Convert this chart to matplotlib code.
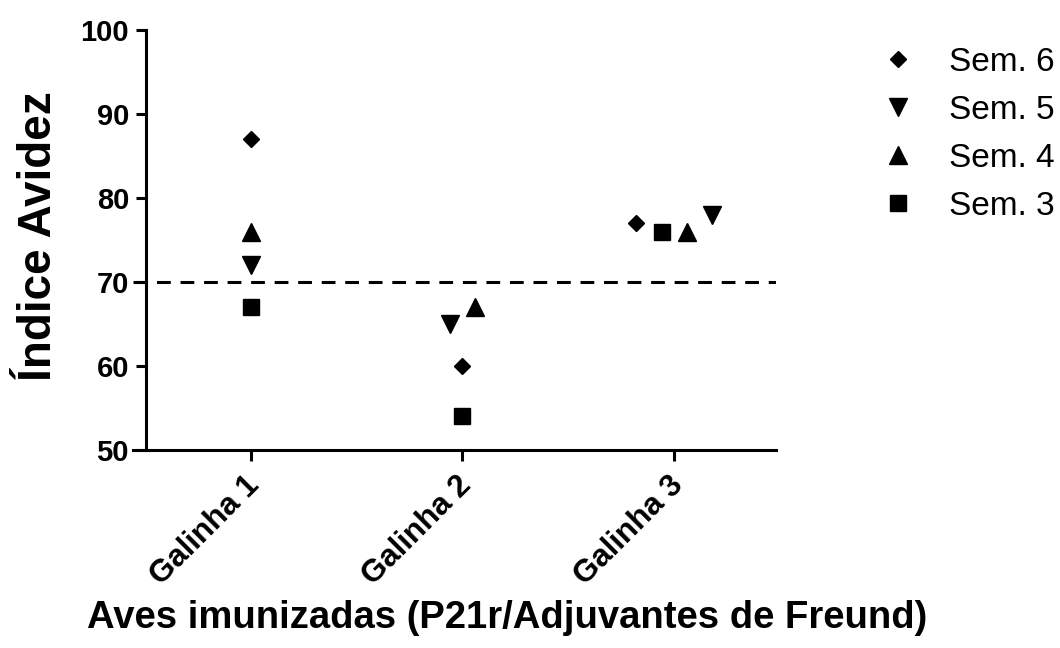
import matplotlib
matplotlib.use("Agg")
import matplotlib.pyplot as plt
import matplotlib.transforms as mtransforms
import numpy as np

plt.rcParams['font.family'] = ['Liberation Sans', 'DejaVu Sans']

categories = ["Galinha 1", "Galinha 2", "Galinha 3"]
sem6 = [87, 60, 77]
sem5 = [72, 65, 78]
sem4 = [76, 67, 76]
sem3 = [67, 54, 76]
threshold = 70
yticks = [50, 60, 70, 80, 90, 100]

# horizontal jitter (layout only)
off6 = [0.0, 0.0, -0.18]
off5 = [0.0, -0.06, 0.18]
off4 = [0.0, 0.06, 0.06]
off3 = [0.0, 0.0, -0.06]

W, H = 1060, 648
fig = plt.figure(figsize=(W / 100, H / 100), dpi=100)
left_px, right_px, top_px, bot_px = 133, 776, 30, 450
ax = fig.add_axes([left_px / W, 1 - bot_px / H, (right_px - left_px) / W, (bot_px - top_px) / H])

x = np.arange(1, len(categories) + 1)
series = [
    (sem6, off6, 'D', 8.6, "Sem. 6"),
    (sem5, off5, 'v', 13, "Sem. 5"),
    (sem4, off4, '^', 13, "Sem. 4"),
    (sem3, off3, 's', 12.2, "Sem. 3"),
]
handles = []
for vals, off, m, ms, lab in series:
    h, = ax.plot(x + np.array(off), vals, linestyle='none', marker=m, markersize=ms,
                 color='black', label=lab)
    handles.append(h)

ax.axhline(threshold, color='black', linewidth=2.2, linestyle=(0, (4.5, 3.2)), zorder=1)

for s in ['top', 'right']:
    ax.spines[s].set_visible(False)
ax.spines['left'].set_position(('data', 0.505))
ax.spines['left'].set_linewidth(2.2)
ax.spines['bottom'].set_linewidth(2.2)

ax.set_xlim(0.445, 3.48)
ax.set_ylim(50, 100)
ax.spines['left'].set_bounds(50, 100)
ax.set_yticks(yticks, labels=[str(v) for v in yticks], fontsize=21, fontweight='bold')
ax.set_xticks(x, labels=categories, rotation=45, ha='right', va='center',
              rotation_mode='anchor', fontsize=22.5, fontweight='bold')
ax.tick_params(axis='y', length=7, width=2.2, pad=5, direction='out', labelsize=21)
ax.tick_params(axis='x', length=8, width=2.2, pad=13, direction='out', labelsize=22.5)
for lbl in ax.get_yticklabels():
    lbl.set_fontweight('bold')

offset = mtransforms.ScaledTranslation(4 / 100, -2 / 100, fig.dpi_scale_trans)
for lbl in ax.get_xticklabels():
    lbl.set_transform(lbl.get_transform() + offset)
    lbl.set_fontweight('bold')

fig.text(39 / W, 1 - 236 / H, "Índice Avidez", rotation=90, ha='center', va='center',
         fontsize=33, fontweight='bold')
fig.text(507 / W, 1 - 618 / H, "Aves imunizadas (P21r/Adjuvantes de Freund)",
         ha='center', va='center', fontsize=27.5, fontweight='bold')

leg = fig.legend(handles=handles, loc='upper left', bbox_to_anchor=(881 / W, 1 - 47 / H),
                 frameon=False, fontsize=24, handlelength=1.0, handletextpad=1.05,
                 labelspacing=0.51, borderaxespad=0, borderpad=0)

fig.savefig("out.png", dpi=100)
